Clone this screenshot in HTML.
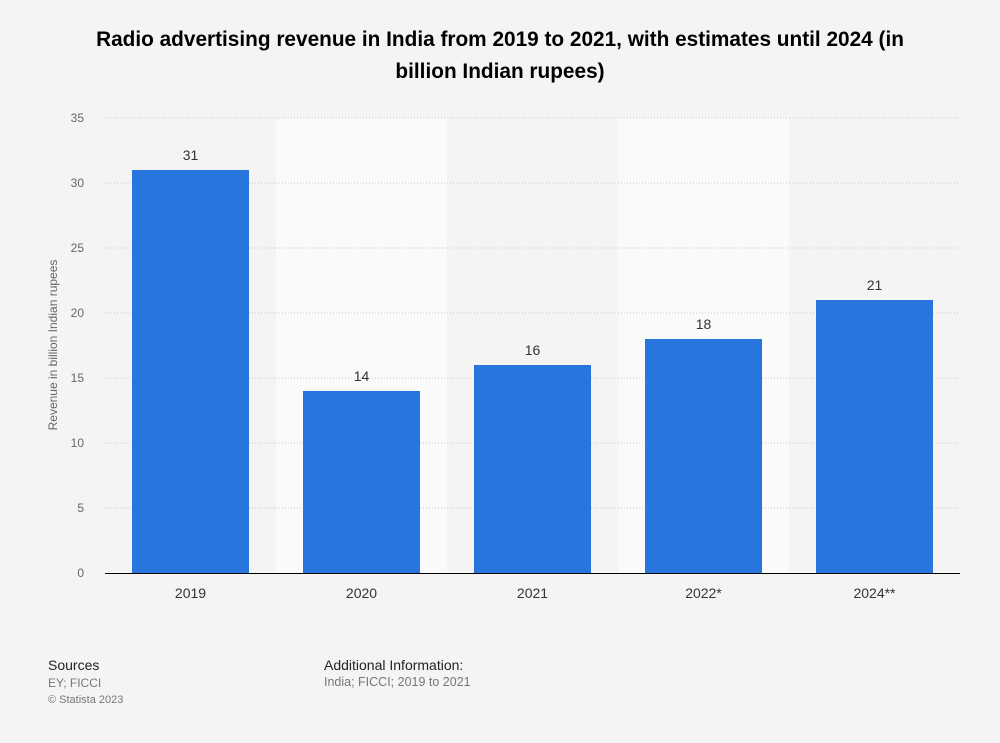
<!DOCTYPE html>
<html><head><meta charset="utf-8"><style>
body{margin:0;width:1000px;height:743px;background:#f4f4f4;font-family:"Liberation Sans",Arial,sans-serif;overflow:hidden;position:relative}
.t{position:absolute;left:0;width:1000px;text-align:center;font-weight:bold;font-size:20.8px;color:#000;top:24px;line-height:32px}
.f{position:absolute;font-size:13px}
</style></head><body>
<div class="t">Radio advertising revenue in India from 2019 to 2021, with estimates until 2024 (in<br>billion Indian rupees)</div>
<svg id="c" width="1000" height="743" style="position:absolute;left:0;top:0"></svg>
<div class="f" style="left:48px;top:657px;color:#222;font-size:14px">Sources</div>
<div class="f" style="left:48px;top:675px;color:#777;font-size:12px;line-height:16px">EY; FICCI<br><span style="font-size:11px">© Statista 2023</span></div>
<div class="f" style="left:324px;top:657px;color:#222;font-size:14px">Additional Information:</div>
<div class="f" style="left:324px;top:675px;color:#777;font-size:12.5px">India; FICCI; 2019 to 2021</div>
<script>
const categories=["2019","2020","2021","2022*","2024**"];
const values=[31,14,16,18,21];
const yTicks=[0,5,10,15,20,25,30,35];
const svg=document.getElementById('c');const NS='http://www.w3.org/2000/svg';
const x0=105,x1=960,y0=573,yTop=118,yMax=35;
const bw=(x1-x0)/categories.length;
const y=v=>y0-(v/yMax)*(y0-yTop);
const xc=i=>x0+bw*(i+0.5);
function mk(t,a,txt){const e=document.createElementNS(NS,t);for(const k in a)e.setAttribute(k,a[k]);if(txt!==undefined)e.textContent=txt;svg.appendChild(e);return e;}
categories.forEach((c,i)=>{if(i%2==1){const r=mk('rect',{x:x0+bw*i,y:yTop,width:bw,height:y0-yTop,fill:'#fafafa'});

}});
yTicks.forEach(t=>{if(t>0){const l=mk('line',{x1:x0,x2:x1,y1:y(t),y2:y(t),stroke:'#c8c8c8','stroke-dasharray':'1,2'});

}
const tx=mk('text',{x:84,y:y(t)+4,'text-anchor':'end','font-size':12,fill:'#666'},t);

});
categories.forEach((c,i)=>{const w=117;
const r=mk('rect',{x:xc(i)-w/2,y:y(values[i]),width:w,height:y0-y(values[i]),fill:'#2876dd'});


const v=mk('text',{x:xc(i),y:y(values[i])-10,'text-anchor':'middle','font-size':14,fill:'#333'},values[i]);


const xl=mk('text',{x:xc(i),y:598,'text-anchor':'middle','font-size':14,fill:'#333'},c);

});
const ax=mk('line',{x1:x0,x2:x1,y1:y0+0.5,y2:y0+0.5,stroke:'#000','stroke-width':1});


const yt=mk('text',{x:0,y:0,'text-anchor':'middle','font-size':12,fill:'#666',transform:'translate(57,345) rotate(-90)'},'Revenue in billion Indian rupees');


</script>
</body></html>
